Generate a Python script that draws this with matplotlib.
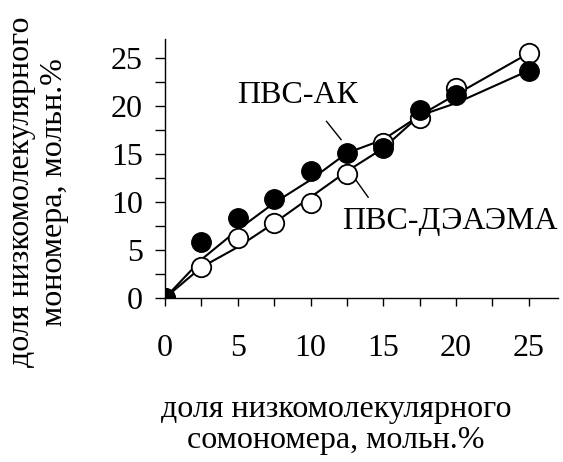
import matplotlib
matplotlib.use("Agg")
import matplotlib.pyplot as plt
from matplotlib.ticker import MultipleLocator

plt.rcParams['font.family'] = ['Liberation Serif', 'DejaVu Serif']

# доля сомономера в исходной смеси, мольн.%
x = [0, 2.5, 5, 7.5, 10, 12.5, 15, 17.5, 20, 25]

# ПВС-АК (закрашенные точки)
ak = [0, 5.8, 8.3, 10.3, 13.2, 15.1, 15.6, 19.6, 21.1, 23.6]
ak_line = [0, 4.0, 7.1, 9.9, 12.3, 15.1, 16.5, 19.0, 20.3, 23.7]

# ПВС-ДЭАЭМА (пустые точки)
de = [0, 3.2, 6.3, 7.8, 9.9, 12.9, 16.1, 18.8, 21.9, 25.5]
de_line = [0, 3.2, 5.3, 7.8, 10.5, 13.2, 15.6, 19.0, 21.2, 25.5]

fs = 23

fig = plt.figure(figsize=(5.63, 4.62), dpi=100)
ax = fig.add_axes([0.293, 0.355, 0.698, 0.561])

ax.plot(x, ak_line, color='black', lw=1.5, zorder=2)
ax.plot(x, de_line, color='black', lw=1.5, zorder=2)
ax.plot(x, de, 'o', ms=14, mfc='white', mec='black', mew=1.3, zorder=3)
ax.plot(x, ak, 'o', ms=14, mfc='black', mec='black', zorder=4)

# подписи кривых
ax.text(9.1, 21.1, 'ПВС-АК', fontsize=fs, ha='center', va='center')
ax.plot([11.1, 12.1], [18.4, 16.5], color='black', lw=1)
ax.text(19.6, 7.95, 'ПВС-ДЭАЭМА', fontsize=fs, ha='center', va='center')
ax.plot([12.97, 13.96], [12.6, 10.5], color='black', lw=1)

ax.set_xlim(0, 27)
ax.set_ylim(0, 27)
ax.xaxis.set_major_locator(MultipleLocator(5))
ax.xaxis.set_minor_locator(MultipleLocator(2.5))
ax.yaxis.set_major_locator(MultipleLocator(5))
ax.yaxis.set_minor_locator(MultipleLocator(2.5))
ax.tick_params(axis='x', which='both', direction='out', length=6, width=1, pad=20, labelsize=fs)
ax.tick_params(axis='y', which='both', direction='out', length=7, width=1, pad=9, labelsize=fs)

for s in ['top', 'right']:
    ax.spines[s].set_visible(False)
for s in ['left', 'bottom']:
    ax.spines[s].set_linewidth(1)

fig.text(0.597, 0.080, 'доля низкомолекулярного\nсомономера, мольн.%',
         fontsize=fs, ha='center', va='center', linespacing=1.1)
fig.text(0.068, 0.584, 'доля низкомолекулярного\nмономера, мольн.%',
         fontsize=fs, ha='center', va='center', rotation=90, linespacing=1.2)

fig.savefig('out.png', dpi=100)
